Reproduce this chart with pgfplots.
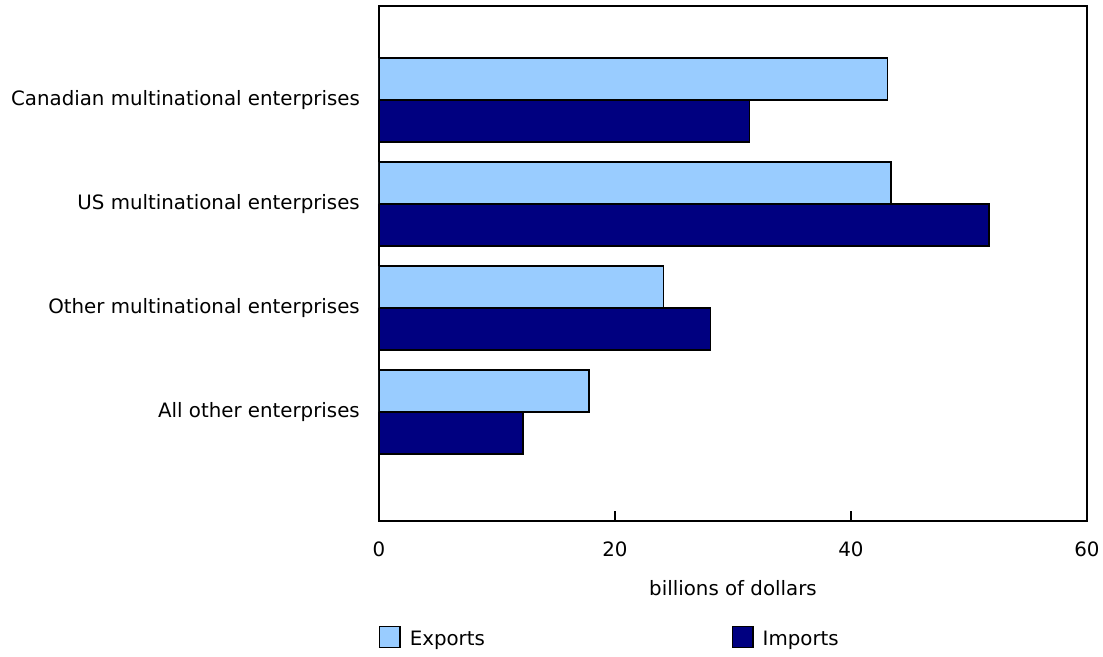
\documentclass[border=0pt]{standalone}
\usepackage{pgfplots}
\pgfplotsset{compat=1.18}
\usepackage{fontspec}
\setmainfont{DejaVu Sans}
\definecolor{expc}{HTML}{99CCFF}
\definecolor{impc}{HTML}{000080}
\begin{document}
\fontsize{19.8}{23}\selectfont
\begin{tikzpicture}
\begin{axis}[
  name=ax,
  scale only axis, width=708pt, height=515pt,
  xmin=0, xmax=60, ymin=-1.048, ymax=3.904,
  xtick={0,20,40,60}, xtick pos=bottom, tick align=inside,
  major tick length=10pt,
  tick style={black, line width=1.2pt},
  ytick={0,1,2,3},
  yticklabels={All other enterprises, Other multinational enterprises, US multinational enterprises, Canadian multinational enterprises},
  ytick style={draw=none},
  axis line style={black, line width=1.3pt},
  /pgf/number format/assume math mode=true,
  tick label style={font=\fontsize{19.8}{23}\selectfont, inner sep=0pt},
  yticklabel style={xshift=-9pt},
  xticklabel style={yshift=-21pt},
  xlabel={billions of dollars},
  xlabel style={at={(axis description cs:0.5,0)}, anchor=north, yshift=-59pt, inner sep=0pt, font=\fontsize{19.8}{23}\selectfont},
  xbar, bar width=42pt,
  legend columns=2,
  legend style={at={(axis description cs:0,-0.2039)}, anchor=north west, draw=none, fill=none, inner sep=0pt, outer sep=0pt,
    font=\fontsize{19.8}{23}\selectfont,
    nodes={inner sep=0pt},
    /tikz/every odd column/.append style={column sep=9pt},
    /tikz/every even column/.append style={column sep=247pt}},
  legend image code/.code={\draw[#1, line width=1.3pt] (0pt,-7.8pt) rectangle (20.5pt,12.8pt);},
]
\addplot[fill=expc, draw=black, line width=1.3pt, bar shift=21pt] coordinates {(43.1,3) (43.4,2) (24.1,1) (17.8,0)};
\addplot[fill=impc, draw=black, line width=1.3pt, bar shift=-21pt] coordinates {(31.4,3) (51.7,2) (28.1,1) (12.2,0)};
\legend{Exports, Imports}
\end{axis}
\pgfresetboundingbox
\path (ax.south west) ++(-379pt,-135pt) rectangle ++(1103pt,656pt);
\end{tikzpicture}
\end{document}
